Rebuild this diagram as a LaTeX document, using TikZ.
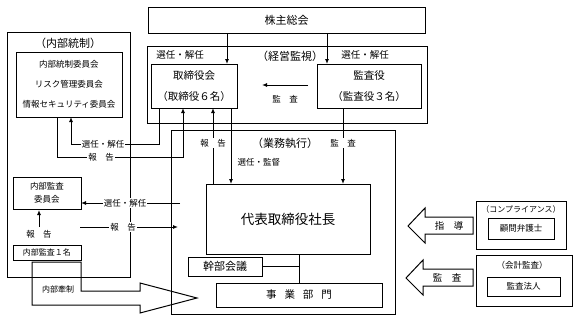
\documentclass[tikz,border=0pt]{standalone}
\usepackage{fontspec}
\setmainfont{Noto Sans CJK JP}
\usetikzlibrary{arrows.meta,calc}
\begin{document}
\begin{tikzpicture}[x=1pt,y=-1pt,
  bx/.style={draw,line width=1pt,inner sep=0pt,outer sep=0pt,anchor=north west,align=center},
  ln/.style={line width=1pt},
  ar/.style={line width=1pt,-{Latex[length=5pt,width=4pt]}},
  wl/.style={fill=white,inner sep=1pt},
  fA/.style={font=\fontsize{11}{13}\selectfont},
  fB/.style={font=\fontsize{10.5}{12}\selectfont},
  fS/.style={font=\fontsize{9.5}{11}\selectfont},
  fC/.style={font=\fontsize{8.5}{10}\selectfont},
  fD/.style={font=\fontsize{8}{9.5}\selectfont},
  fX/.style={font=\fontsize{13.5}{15}\selectfont},
]
\useasboundingbox (0,0) rectangle (581,322);
\fill[white] (0,0) rectangle (581,322);

% ---- top: shareholders and supervision
\node[bx,fA,minimum width=277pt,minimum height=26pt] (kabu) at (148,7) {株主総会};
\node[bx,minimum width=280pt,minimum height=77pt] (keiei) at (147,46) {};
\node[fA] (keieil) at (290,56) {（経営監視）};
\node[bx,fB,minimum width=86pt,minimum height=44pt] (tori) at (151,64) {取締役会\\[8.5pt]（取締役６名）};
\node[bx,fB,minimum width=104pt,minimum height=44pt] (kansa) at (317,64) {監査役\\[8.5pt]（監査役３名）};
\node[fS] (senL) at (180,55) {選任・解任};
\node[fS] (senR) at (365,55) {選任・解任};
\draw[ar] ($(kabu.south west)+(79,0)$) -- ($(tori.north west)+(76,0)$);
\draw[ar] ($(kabu.south west)+(179,0)$) -- ($(kansa.north west)+(10,0)$);
\coordinate (kmA) at (308,85);
\coordinate (kmB) at (262,85);
\draw[ar] (kmA) -- (kmB);
\node[fC] (kml) at (285,99) {監　査};

% ---- internal control
\node[bx,minimum width=123pt,minimum height=245pt] (naibu) at (7,32) {};
\node[fA] (naibul) at (68,43) {（内部統制）};
\node[bx,fC,minimum width=106pt,minimum height=65pt] (iinkai) at (16,52) {内部統制委員会\\[10pt]リスク管理委員会\\[10pt]情報セキュリティ委員会};
\node[bx,fC,minimum width=68pt,minimum height=32pt] (kansaiin) at (13,177) {内部監査\\[3pt]委員会};
\node[bx,fD,minimum width=68pt,minimum height=15pt] (kansa1) at (13,245) {内部監査１名};

% ---- business execution
\node[bx,minimum width=224pt,minimum height=184pt] (gyomu) at (171,130) {};
\node[fA] (gyomul) at (285,143) {（業務執行）};
\node[bx,fX,minimum width=164pt,minimum height=70pt] (daihyo) at (206,184) {代表取締役社長};
\node[bx,fA,minimum width=74pt,minimum height=19pt] (kanbu) at (188,257) {幹部会議};
\node[bx,fB,minimum width=166pt,minimum height=24pt] (jigyo) at (216,283) {事\hspace{0.75em}業\hspace{0.75em}部\hspace{0.75em}門};

% connectors board <-> internal control
\draw[ar] ($(tori.south west)+(8,0)$) |- ($(iinkai.south west)+(55,27)$) -- ($(iinkai.south west)+(55,0)$);
\node[wl,fC] (senI) at (103,144) {選任・解任};
\draw[ar] ($(iinkai.south west)+(41,0)$) |- ($(tori.south west)+(32,49)$) -- ($(tori.south west)+(32,0)$);
\node[wl,fC] (hokI) at (101,157) {報　告};

% board <-> president
\draw[ar] ($(daihyo.north west)+(7,0)$) -- ($(tori.south west)+(62,0)$);
\node[wl,fC] (hokD) at (213,143) {報　告};
\draw[ar] ($(tori.south west)+(80,0)$) -- ($(daihyo.north west)+(25,0)$);
\node[fC,anchor=west] (senK) at (234,162) {選任・監督};
\draw[ar] ($(kansa.south west)+(26,0)$) -- ($(daihyo.north west)+(137,0)$);
\node[wl,fC] (kanD) at (343,143) {監　査};

% president -> divisions
\coordinate (dj) at ($(daihyo.south west)+(93,0)$);
\draw[ln] (dj) -- ($(jigyo.north west)+(83,0)$);
\draw[ln] (kanbu.east) -- (kanbu.east -| dj);

% internal audit connectors
\draw[ar] ($(kansaiin.south)+(-8,18)$) -- ($(kansaiin.south)+(-8,1)$);
\node[fC] (hokA) at (39,234) {報　告};
\draw[ar] ($(gyomu.north west)+(9,73)$) -- ($(kansaiin.south east)+(0,-6)$);
\node[wl,fC] (senA) at (125,203) {選任・解任};
\draw[ar] ($(kansaiin.south east)+(-1,18)$) -- ($(gyomu.north west)+(7,97)$);
\node[wl,fC] (hokB) at (123,227) {報　告};

% internal check arrow
\draw[line width=1pt,line join=miter] (32,262) -- (81,262) -- (81,291) -- (140,291) -- (140,283) -- (197,298) -- (140,313) -- (140,305) -- (32,305) -- cycle;
\node[fD] (kensei) at (58,289) {内部牽制};

% ---- external
\node[bx,minimum width=90pt,minimum height=48pt] (comp) at (476,201) {};
\node[fD] (compl) at (521,209) {（コンプライアンス）};
\node[bx,fC,minimum width=66pt,minimum height=21pt] (bengo) at (488,218) {顧問弁護士};
\node[bx,minimum width=96pt,minimum height=51pt] (kaikei) at (476,255) {};
\node[fC] (kaikeil) at (522,265) {（会計監査）};
\node[bx,fC,minimum width=73pt,minimum height=19pt] (hojin) at (487,277) {監査法人};

\draw[line width=1pt,line join=miter] (408,226) -- (425,208) -- (425,217) -- (473,217) -- (473,234) -- (425,234) -- (425,243) -- cycle;
\node[fS] (shido) at (449,226) {指　導};
\draw[line width=1pt,line join=miter] (406,278) -- (423,260) -- (423,269) -- (473,269) -- (473,286) -- (423,286) -- (423,295) -- cycle;
\node[fS] (kanE) at (447,278) {監　査};
\end{tikzpicture}
\end{document}
